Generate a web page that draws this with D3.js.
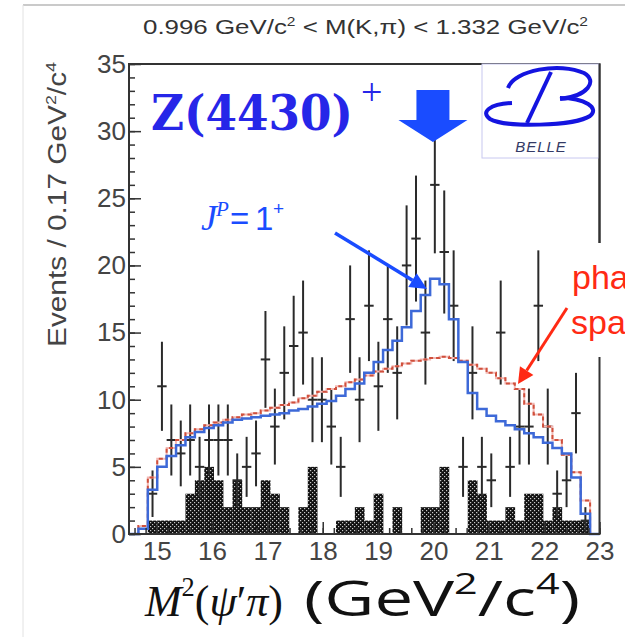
<!DOCTYPE html>
<html>
<head>
<meta charset="utf-8">
<script src="https://cdn.jsdelivr.net/npm/d3@7"></script>
<style>
  html, body { margin: 0; padding: 0; background: #fff; }
  svg { display: block; }
</style>
</head>
<body>
<svg id="chart" width="625" height="637"></svg>
<script>
// Histogram binning: 50 bins of 0.17 GeV^2/c^4 starting at 14.5
const lowEdge = 14.5;
const binWidth = 0.17;

// Observed events per bin
const events = [0, 0, 3, 11, 7, 6, 7, 5, 7, 7,
                7, 4, 5, 6, 13, 8, 12, 14, 15, 10,
                10, 8, 5, 16, 10, 17, 11, 16, 12, 20,
                22, 15, 26, 21, 17, 5, 12, 5, 4, 15,
                5, 8, 8, 17, 8, 3, 4, 9, 1, 0];

// Sideband background estimate per bin
const background = [0, 0, 1, 1, 1, 1, 3, 4, 5, 4,
                    2, 4, 2, 2, 4, 3, 2, 0, 2, 5,
                    0, 0, 1, 1, 2, 1, 3, 0, 2, 0,
                    0, 2, 2, 5, 0, 0, 4, 3, 1, 1,
                    2, 1, 3, 3, 1, 2, 1, 1, 1, 0];

// Fit with a J^P = 1+ Z(4430)+ resonance
const fitOnePlus = [0, 0.4, 3.3, 5.0, 5.8, 6.6, 7.2, 7.6, 7.9, 8.1,
                    8.3, 8.5, 8.6, 8.7, 8.8, 8.9, 9.0, 9.2, 9.3, 9.5,
                    9.7, 9.9, 10.3, 10.8, 11.2, 12.0, 12.8, 13.7, 14.4, 15.4,
                    16.6, 17.8, 19.0, 18.6, 16.0, 12.8, 10.5, 9.3, 8.8, 8.4,
                    8.1, 7.8, 7.5, 7.2, 6.8, 6.4, 6.0, 4.2, 1.5, 0];

// Phase-space only fit
const phaseSpace = [0, 0.6, 4.2, 5.6, 6.4, 7.0, 7.5, 7.8, 8.1, 8.3,
                    8.5, 8.7, 8.9, 9.0, 9.2, 9.4, 9.6, 9.8, 10.1, 10.3,
                    10.6, 10.8, 11.0, 11.3, 11.5, 11.8, 12.1, 12.3, 12.5, 12.7,
                    12.9, 13.0, 13.1, 13.2, 13.1, 12.9, 12.6, 12.3, 12.0, 11.6,
                    11.2, 10.8, 9.7, 8.9, 8.0, 7.0, 5.9, 4.6, 2.5, 0];

const xTicks = [15, 16, 17, 18, 19, 20, 21, 22, 23];
const xMinorTicks = d3.range(73, 116).map(v => v / 5);
const yTicks = [0, 5, 10, 15, 20, 25, 30, 35];
const yMinorTicks = d3.range(0, 36);

const svg = d3.select('#chart');
const x = d3.scaleLinear().domain([14.5, 23]).range([129, 599.5]);
const y = d3.scaleLinear().domain([0, 35]).range([534, 64]);

const edge = i => lowEdge + i * binWidth;

// stipple fill for the background histogram
const defs = svg.append('defs');
const pat = defs.append('pattern').attr('id', 'stipple')
  .attr('width', 4).attr('height', 4).attr('patternUnits', 'userSpaceOnUse');
pat.append('rect').attr('width', 4).attr('height', 4).attr('fill', '#111');
pat.append('rect').attr('x', 0).attr('y', 0).attr('width', 1.2).attr('height', 1.2).attr('fill', '#c8c8c8');
pat.append('rect').attr('x', 2).attr('y', 2).attr('width', 1.2).attr('height', 1.2).attr('fill', '#c8c8c8');

// outer panel border
svg.append('line').attr('x1', 23).attr('x2', 625).attr('y1', 5).attr('y2', 5)
  .attr('stroke', '#b8b8b8').attr('stroke-width', 1.5);
svg.append('line').attr('x1', 23).attr('x2', 23).attr('y1', 5).attr('y2', 637)
  .attr('stroke', '#e2e2e2').attr('stroke-width', 1);

// title
svg.append('text').attr('x', 143).attr('y', 34)
  .attr('font-family', 'Liberation Sans, Arial, sans-serif').attr('font-size', 20)
  .attr('fill', '#333')
  .attr('textLength', 445).attr('lengthAdjust', 'spacingAndGlyphs')
  .call(t => {
    t.append('tspan').text('0.996 GeV/c');
    t.append('tspan').attr('font-size', 12).attr('dy', -8).text('2');
    t.append('tspan').attr('dy', 8).text(' < M(K,\u03c0) < 1.332 GeV/c');
    t.append('tspan').attr('font-size', 12).attr('dy', -8).text('2');
  });

// background histogram
const bkgBins = background.map((n, i) => ({ n, i })).filter(d => d.n > 0);
svg.append('g').selectAll('rect').data(bkgBins).join('rect')
  .attr('x', d => x(edge(d.i)))
  .attr('width', d => x(edge(d.i + 1)) - x(edge(d.i)) + 0.3)
  .attr('y', d => y(d.n))
  .attr('height', d => y(0) - y(d.n))
  .attr('fill', 'url(#stipple)');

// data points with Poisson errors
const pts = events.map((n, i) => ({ n, i })).filter(d => d.n > 0);
const gData = svg.append('g').attr('stroke', '#2a2a2a').attr('stroke-width', 2);
gData.selectAll('line.v').data(pts).join('line').attr('class', 'v')
  .attr('x1', d => x(edge(d.i) + binWidth / 2)).attr('x2', d => x(edge(d.i) + binWidth / 2))
  .attr('y1', d => y(d.n + Math.sqrt(d.n))).attr('y2', d => y(Math.max(0, d.n - Math.sqrt(d.n))));
gData.selectAll('line.h').data(pts).join('line').attr('class', 'h')
  .attr('x1', d => x(edge(d.i))).attr('x2', d => x(edge(d.i + 1)))
  .attr('y1', d => y(d.n)).attr('y2', d => y(d.n));

// step curves
const stepPoints = vals => {
  const p = [];
  vals.forEach((v, i) => { p.push([edge(i), v], [edge(i + 1), v]); });
  return p;
};
const stepLine = d3.line().x(d => x(d[0])).y(d => y(d[1]));

svg.append('path').attr('d', stepLine(stepPoints(phaseSpace)))
  .attr('fill', 'none').attr('stroke', '#f2b8b4').attr('stroke-width', 2);
svg.append('path').attr('d', stepLine(stepPoints(phaseSpace)))
  .attr('fill', 'none').attr('stroke', '#d0503c').attr('stroke-width', 2)
  .attr('stroke-dasharray', '4,3');
svg.append('path').attr('d', stepLine(stepPoints(fitOnePlus)))
  .attr('fill', 'none').attr('stroke', '#3d69d8').attr('stroke-width', 2.5);

// axes
const axisFont = g => g.selectAll('text')
  .attr('font-family', 'Liberation Sans, Arial, sans-serif').attr('font-size', 26).attr('fill', '#444');

svg.append('g').attr('transform', `translate(${x.range()[0]},0)`)
  .call(d3.axisLeft(y).tickValues(yMinorTicks).tickSize(-6).tickFormat(''))
  .call(g => g.select('.domain').remove())
  .call(g => g.selectAll('line').attr('stroke', '#333').attr('stroke-width', 1.5));
svg.append('g').attr('transform', `translate(${x.range()[0]},0)`)
  .call(d3.axisLeft(y).tickValues(yTicks).tickSize(-12).tickPadding(3))
  .call(g => g.select('.domain').remove())
  .call(g => g.selectAll('line').attr('stroke', '#333').attr('stroke-width', 1.5))
  .call(axisFont);

svg.append('g').attr('transform', `translate(0,${y.range()[0]})`)
  .call(d3.axisBottom(x).tickValues(xMinorTicks).tickSize(-6).tickFormat(''))
  .call(g => g.select('.domain').remove())
  .call(g => g.selectAll('line').attr('stroke', '#333').attr('stroke-width', 1.5));
svg.append('g').attr('transform', `translate(0,${y.range()[0]})`)
  .call(d3.axisBottom(x).tickValues(xTicks).tickSize(-12).tickPadding(8))
  .call(g => g.select('.domain').remove())
  .call(g => g.selectAll('line').attr('stroke', '#333').attr('stroke-width', 1.5))
  .call(axisFont);

// frame
svg.append('rect')
  .attr('x', x.range()[0]).attr('y', y.range()[1])
  .attr('width', x.range()[1] - x.range()[0]).attr('height', y.range()[0] - y.range()[1])
  .attr('fill', 'none').attr('stroke', '#333').attr('stroke-width', 2);

// y label
svg.append('text').attr('transform', 'translate(66,347) rotate(-90)')
  .attr('font-family', 'Liberation Sans, Arial, sans-serif').attr('font-size', 25).attr('fill', '#444')
  .attr('textLength', 285).attr('lengthAdjust', 'spacingAndGlyphs')
  .call(t => {
    t.append('tspan').text('Events / 0.17 GeV');
    t.append('tspan').attr('font-size', 15).attr('dy', -10).text('2');
    t.append('tspan').attr('dy', 10).text('/c');
    t.append('tspan').attr('font-size', 15).attr('dy', -10).text('4');
  });

// x label: math part in serif, units in sans
const serif = 'Liberation Serif, Times New Roman, serif';
const sans = 'Open Sans, DejaVu Sans, sans-serif';
svg.append('text').attr('x', 145).attr('y', 616)
  .attr('font-size', 45).attr('fill', '#111').attr('font-family', serif)
  .attr('textLength', 138).attr('lengthAdjust', 'spacingAndGlyphs')
  .call(t => {
    t.append('tspan').attr('font-style', 'italic').text('M');
    t.append('tspan').attr('font-size', 27).attr('dy', -20).text('2');
    t.append('tspan').attr('dy', 20).text('(');
    t.append('tspan').attr('font-style', 'italic').text('\u03c8');
    t.append('tspan').text('\u2032');
    t.append('tspan').attr('font-style', 'italic').text('\u03c0');
    t.append('tspan').text(')');
  });
svg.append('text').attr('x', 304).attr('y', 616)
  .attr('font-size', 50).attr('fill', '#111').attr('font-family', sans)
  .attr('textLength', 276).attr('lengthAdjust', 'spacingAndGlyphs')
  .call(t => {
    t.append('tspan').text('(GeV');
    t.append('tspan').attr('font-size', 30).attr('dy', -22).text('2');
    t.append('tspan').attr('dy', 22).text('/c');
    t.append('tspan').attr('font-size', 30).attr('dy', -22).text('4');
    t.append('tspan').attr('dy', 22).text(')');
  });

// arrows
const arrow = (x1, y1, x2, y2, color, w, headLen, headHalf) => {
  const a = Math.atan2(y2 - y1, x2 - x1);
  const bx = x2 - headLen * Math.cos(a), by = y2 - headLen * Math.sin(a);
  svg.append('line').attr('x1', x1).attr('y1', y1).attr('x2', bx).attr('y2', by)
    .attr('stroke', color).attr('stroke-width', w);
  const px = -Math.sin(a) * headHalf, py = Math.cos(a) * headHalf;
  svg.append('polygon')
    .attr('points', [[x2, y2], [bx + px, by + py], [bx - px, by - py]].map(p => p.join(',')).join(' '))
    .attr('fill', color);
};

// Z(4430)+ label and position marker
svg.append('text').attr('x', 151).attr('y', 130)
  .attr('font-family', 'DejaVu Serif, serif').attr('font-weight', 'bold').attr('font-size', 48)
  .attr('textLength', 202).attr('lengthAdjust', 'spacingAndGlyphs')
  .attr('fill', '#2626e8').text('Z(4430)');
svg.append('text').attr('x', 361).attr('y', 105)
  .attr('font-family', 'Liberation Serif, serif').attr('font-size', 38)
  .attr('fill', '#2626e8').text('+');
const zMass = 20.0;
svg.append('polygon')
  .attr('points', [
    [x(zMass) - 17, 90], [x(zMass) + 16, 90], [x(zMass) + 16, 120], [x(zMass) + 34, 120],
    [x(zMass) - 0.5, 142], [x(zMass) - 35, 120], [x(zMass) - 17, 120]
  ].map(p => p.join(',')).join(' '))
  .attr('fill', '#1a4cff');

// J^P = 1+ label
const jpBlue = '#1a4cff';
svg.append('text').attr('x', 201).attr('y', 230)
  .attr('font-family', serif).attr('font-style', 'italic').attr('font-size', 36)
  .attr('fill', jpBlue).text('J');
svg.append('text').attr('x', 216).attr('y', 216)
  .attr('font-family', serif).attr('font-style', 'italic').attr('font-size', 21)
  .attr('fill', jpBlue).text('P');
svg.append('text').attr('x', 230).attr('y', 230)
  .attr('font-family', 'Liberation Sans, sans-serif').attr('font-size', 33)
  .attr('fill', jpBlue).text('=');
svg.append('text').attr('x', 255).attr('y', 230)
  .attr('font-family', 'Liberation Sans, sans-serif').attr('font-size', 33)
  .attr('fill', jpBlue).text('1');
svg.append('text').attr('x', 273).attr('y', 215)
  .attr('font-family', 'Liberation Sans, sans-serif').attr('font-size', 19)
  .attr('fill', jpBlue).text('+');
arrow(335, 233, 427, 289, jpBlue, 3.5, 17, 8);

// phase space label
svg.append('rect').attr('x', 566).attr('y', 243).attr('width', 59).attr('height', 114).attr('fill', '#fff');
const psRed = '#ff2a14';
svg.append('text').attr('x', 572).attr('y', 289)
  .attr('font-family', 'Liberation Sans, sans-serif').attr('font-size', 34)
  .attr('fill', psRed).text('phase');
svg.append('text').attr('x', 571).attr('y', 334)
  .attr('font-family', 'Liberation Sans, sans-serif').attr('font-size', 34)
  .attr('fill', psRed).text('space');
arrow(567, 308, 518, 384, psRed, 3, 16, 8);

// Belle logo
const logo = svg.append('g');
logo.append('rect').attr('x', 482).attr('y', 64).attr('width', 117).attr('height', 94)
  .attr('fill', '#fff').attr('stroke', '#c8c8f0').attr('stroke-width', 1);
const logoBlue = '#1414e0';
logo.append('path')
  .attr('d', 'M512,103 C490,104 480,112 490,119 C505,128 575,126 590,116 C600,108 585,98 560,98')
  .attr('fill', 'none').attr('stroke', logoBlue).attr('stroke-width', 4);
logo.append('path').attr('d', 'M508,88 C514,70 560,62 584,73 C598,81 588,96 560,99')
  .attr('fill', 'none').attr('stroke', logoBlue).attr('stroke-width', 4);
logo.append('path').attr('d', 'M551,72 L527,123')
  .attr('fill', 'none').attr('stroke', logoBlue).attr('stroke-width', 4);
logo.append('text').attr('x', 541).attr('y', 152).attr('text-anchor', 'middle')
  .attr('font-family', 'Liberation Sans, sans-serif').attr('font-style', 'italic')
  .attr('font-size', 15).attr('letter-spacing', 1).attr('fill', '#333a66').text('BELLE');
// frame edge alongside the logo box
svg.append('line').attr('x1', x.range()[1]).attr('x2', x.range()[1]).attr('y1', 64).attr('y2', 243)
  .attr('stroke', '#333').attr('stroke-width', 2);
</script>
</body>
</html>
